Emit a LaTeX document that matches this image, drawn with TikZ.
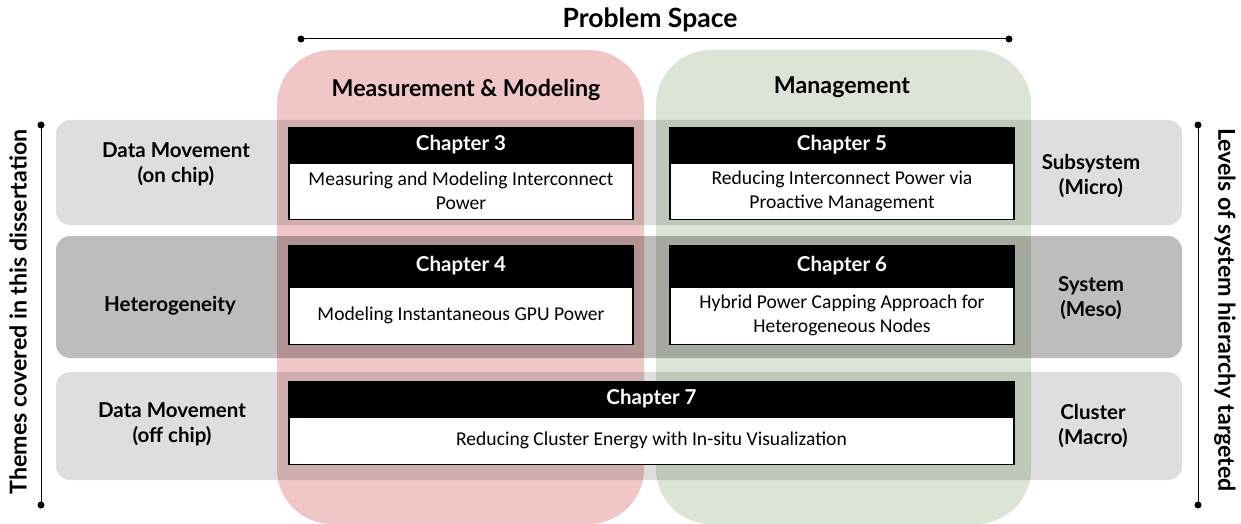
\documentclass[tikz,border=0pt]{standalone}
\usepackage{fontspec}
\usetikzlibrary{positioning}
\setmainfont{Carlito}
\newfontfamily\headfont{Lato}
\definecolor{measred}{HTML}{F0C6C6}
\definecolor{mgmtgreen}{HTML}{DCE5D5}
\tikzset{
  band/.style={fill=black,rounded corners=14pt},
  chaphead/.style={fill=black,draw=black,line width=1.2pt,text=white,inner sep=0pt,
    font=\headfont\bfseries\fontsize{20.5}{22}\selectfont},
  chapbody/.style={fill=white,draw=black,line width=1.2pt,inner sep=0pt,align=center,
    font=\fontsize{19.6}{24}\selectfont},
  lbl/.style={align=center,font=\headfont\bfseries\fontsize{20.5}{25}\selectfont},
  ttl/.style={font=\headfont\bfseries\fontsize{23.2}{26}\selectfont}
}
\begin{document}
\begin{tikzpicture}[x=1pt,y=-1pt]

\useasboundingbox (0,0) rectangle (1241,524);

\fill[measred,rounded corners=55pt] (277,50) rectangle (644,524);
\fill[mgmtgreen,rounded corners=55pt] (656,50) rectangle (1031,524);

\fill[band,opacity=.13] (56,120) rectangle (1182,225);
\fill[band,opacity=.26] (56,236) rectangle (1182,358);
\fill[band,opacity=.13] (56,372) rectangle (1182,480);

\node[ttl,font=\headfont\bfseries\fontsize{26.5}{28}\selectfont] (probspace) at (650,20) {Problem Space};
\coordinate (psl) at (301,39);
\coordinate (psr) at (1009,39);
\draw[line width=1pt] (psl)--(psr);

\node[ttl] (meas) at (466,90) {Measurement \& Modeling};
\node[ttl] (mgmt) at (842,87) {Management};

\coordinate (tl) at (41,125);
\coordinate (bl) at (41,505);
\coordinate (tr) at (1198,125);
\coordinate (br) at (1198,505);
\draw[line width=1pt] (tl)--(bl);
\draw[line width=1pt] (tr)--(br);

\foreach \p in {psl,psr,tl,bl,tr,br}{
\fill (\p) circle (3.5pt);
}

\node[ttl,rotate=90] (themes) at (18,312) {Themes covered in this dissertation};
\node[ttl,rotate=-90] (levels) at (1225,310) {Levels of system hierarchy targeted};

\node[lbl] (dmon) at (176,164) {Data Movement\\(on chip)};
\node[lbl] (het) at (170,306) {Heterogeneity};
\node[lbl] (dmoff) at (172,424) {Data Movement\\(off chip)};
\node[lbl] (micro) at (1091,176) {Subsystem\\(Micro)};
\node[lbl] (meso) at (1091,298) {System\\(Meso)};
\node[lbl] (macro) at (1093,426) {Cluster\\(Macro)};

\node[chaphead,minimum width=344pt,minimum height=34pt] (ch3) at (461,145) {Chapter 3};
\node[chapbody,minimum width=344pt,minimum height=56pt,below=0pt of ch3] (ch3b)
  {Measuring and Modeling Interconnect\\Power};
\node[chaphead,minimum width=344pt,minimum height=40pt] (ch4) at (461,266) {Chapter 4};
\node[chapbody,minimum width=344pt,minimum height=57pt,below=0pt of ch4] (ch4b)
  {Modeling Instantaneous GPU Power};
\node[chaphead,minimum width=344pt,minimum height=34pt] (ch5) at (842,145) {Chapter 5};
\node[chapbody,minimum width=344pt,minimum height=56pt,below=0pt of ch5] (ch5b)
  {Reducing Interconnect Power via\\Proactive Management};
\node[chaphead,minimum width=344pt,minimum height=40pt] (ch6) at (842,266) {Chapter 6};
\node[chapbody,minimum width=344pt,minimum height=57pt,below=0pt of ch6] (ch6b)
  {Hybrid Power Capping Approach for\\Heterogeneous Nodes};
\node[chaphead,minimum width=725pt,minimum height=34pt] (ch7) at (651.5,399) {Chapter 7};
\node[chapbody,minimum width=725pt,minimum height=47pt,below=0pt of ch7] (ch7b)
  {Reducing Cluster Energy with In-situ Visualization};

\end{tikzpicture}
\end{document}
